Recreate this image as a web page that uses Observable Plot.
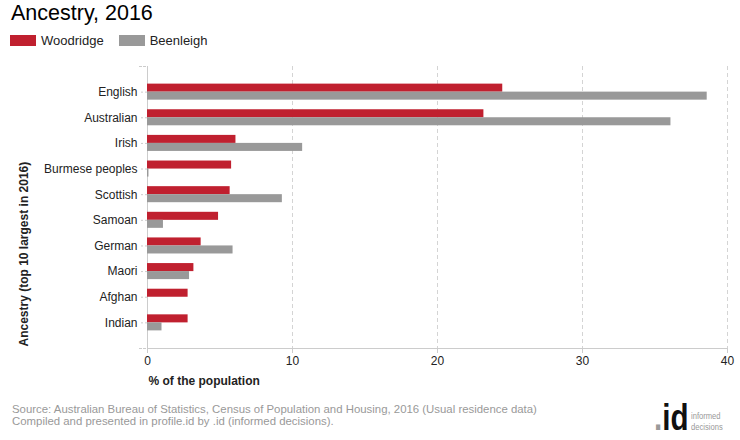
<!DOCTYPE html>
<html>
<head>
<meta charset="utf-8">
<script src="https://cdn.jsdelivr.net/npm/d3@7"></script>
<script src="https://cdn.jsdelivr.net/npm/@observablehq/plot@0.6"></script>
<style>
  html, body { margin: 0; padding: 0; background: #fff; }
  body { width: 740px; height: 440px; position: relative; overflow: hidden; font-family: "Liberation Sans", Arial, sans-serif; }
  #title { position: absolute; left: 11px; top: 0px; font-size: 21.5px; color: #000; line-height: 26px; }
  #legend { position: absolute; left: 10px; top: 33px; font-size: 13px; color: #222; display: flex; align-items: center; }
  .sw { display: inline-block; width: 26px; height: 11px; margin-right: 5px; }
  .item { display: flex; align-items: center; margin-right: 15px; }
  #chart { position: absolute; left: 0; top: 56px; }
  #source { position: absolute; left: 12px; top: 403px; font-size: 11.4px; line-height: 12px; color: #999; }
  #logo .id { position: absolute; left: 654px; top: 400px; font-size: 36px; font-weight: bold; color: #111; line-height: 36px; display: inline-block; transform: scaleX(0.82); transform-origin: left center; white-space: nowrap; }
  #logo .dot { color: #9a9a9a; }
  #logo .txt { position: absolute; left: 691px; top: 410px; font-size: 9.5px; line-height: 11px; color: #999; white-space: nowrap; display: inline-block; transform: scaleX(0.8); transform-origin: left top; }
</style>
</head>
<body>
<div id="title">Ancestry, 2016</div>
<div id="legend">
  <span class="item"><span class="sw" style="background:#c0202f"></span>Woodridge</span>
  <span class="item"><span class="sw" style="background:#999999"></span>Beenleigh</span>
</div>
<div id="chart"></div>
<div id="source">Source: Australian Bureau of Statistics, Census of Population and Housing, 2016 (Usual residence data)<br>Compiled and presented in profile.id by .id (informed decisions).</div>
<div id="logo"><span class="id"><span class="dot">.</span>id</span><span class="txt">informed<br>decisions</span></div>
<script>
const categories = ["English", "Australian", "Irish", "Burmese peoples", "Scottish", "Samoan", "German", "Maori", "Afghan", "Indian"];
const woodridge = [24.5, 23.2, 6.1, 5.8, 5.7, 4.9, 3.7, 3.2, 2.8, 2.8];
const beenleigh = [38.6, 36.1, 10.7, 0.1, 9.3, 1.1, 5.9, 2.9, 0.0, 1.0];
const xTicks = [0, 10, 20, 30, 40];
const xTitle = "% of the population";
const yTitle = "Ancestry (top 10 largest in 2016)";

const rows = categories.map((c, i) => ({cat: c, w: woodridge[i], b: beenleigh[i]}));

const chart = Plot.plot({
  width: 740,
  height: 339,
  marginTop: 10,
  marginBottom: 47,
  marginLeft: 147,
  marginRight: 13,
  style: {fontFamily: "'Liberation Sans', Arial, sans-serif", fontSize: "12px", color: "#333", background: "transparent"},
  x: {domain: [0, 40]},
  y: {domain: categories, paddingInner: 0, paddingOuter: 0.5, round: false},
  marks: [
    Plot.gridX([10, 20, 30, 40], {stroke: "#d4d4d4", strokeOpacity: 1, strokeDasharray: "4,3"}),
    Plot.ruleX([0], {stroke: "#cccccc"}),
    Plot.barX(rows, {x: "w", y: "cat", fill: "#c0202f", insetTop: 4.8, insetBottom: 12.8}),
    Plot.barX(rows, {x: "b", y: "cat", fill: "#999999", insetTop: 12.8, insetBottom: 4.8}),
    Plot.frame({anchor: "bottom", stroke: "#cccccc"}),
    Plot.frame({anchor: "top", stroke: "#cccccc", strokeDasharray: "2,2", insetLeft: -8, insetRight: 580}),
    Plot.frame({anchor: "bottom", stroke: "#cccccc", strokeDasharray: "2,2", insetLeft: -8, insetRight: 580}),
    Plot.axisX({ticks: xTicks, tickSize: 5, tickPadding: 3, stroke: "#cccccc", fill: "#222", strokeOpacity: 1, label: null}),
    Plot.axisY({tickSize: 8, tickPadding: 2, stroke: "#cccccc", strokeOpacity: 1, strokeDasharray: "2,2", fill: "#222", label: null}),
    Plot.text([xTitle], {frameAnchor: "bottom-left", textAnchor: "start", dx: 1, dy: 36, fontWeight: "bold", fontSize: 12, fill: "#222"}),
    Plot.text([yTitle], {frameAnchor: "bottom-left", textAnchor: "start", rotate: -90, dx: -119.5, dy: -2, fontWeight: "bold", fontSize: 12, fill: "#222"})
  ]
});
document.getElementById("chart").appendChild(chart);
</script>
</body>
</html>
